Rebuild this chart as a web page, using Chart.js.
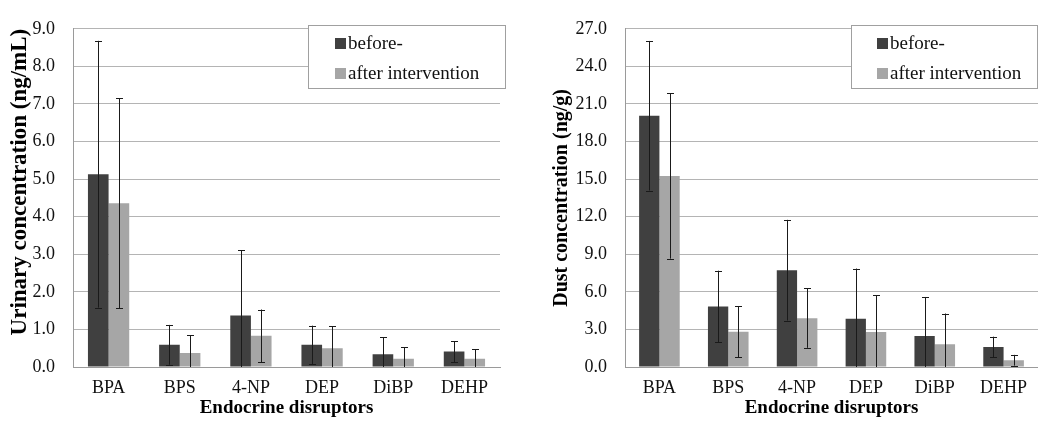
<!DOCTYPE html>
<html>
<head>
<meta charset="utf-8">
<script src="https://cdn.jsdelivr.net/npm/chart.js@4.4.1/dist/chart.umd.min.js"></script>
<style>
  html, body { margin: 0; padding: 0; background: #fff; }
  #wrap { position: relative; width: 1038px; height: 425px; }
  canvas { position: absolute; top: 0; }
  #urine { left: 0; }
  #dust { left: 519px; }
</style>
</head>
<body>
<div id="wrap">
  <canvas id="urine" width="519" height="425"></canvas>
  <canvas id="dust" width="519" height="425"></canvas>
</div>
<script>
// Chart data
const categories = ['BPA', 'BPS', '4-NP', 'DEP', 'DiBP', 'DEHP'];
const seriesLabels = ['before-', 'after intervention'];

// Urinary concentration (ng/mL), mean and SD
const urineBefore = [5.13, 0.59, 1.37, 0.59, 0.34, 0.41];
const urineAfter = [4.36, 0.37, 0.83, 0.50, 0.22, 0.22];
const urineBeforeSd = [3.55, 0.53, 1.74, 0.51, 0.45, 0.28];
const urineAfterSd = [2.79, 0.47, 0.70, 0.59, 0.31, 0.25];

// Dust concentration (ng/g), mean and SD
const dustBefore = [20.06, 4.83, 7.73, 3.85, 2.48, 1.60];
const dustAfter = [15.25, 2.82, 3.90, 2.79, 1.81, 0.54];
const dustBeforeSd = [5.97, 2.86, 4.02, 4.01, 3.11, 0.82];
const dustAfterSd = [6.60, 2.05, 2.37, 2.92, 2.46, 0.43];

const urineTicks = { max: 9, step: 1 };
const dustTicks = { max: 27, step: 3 };

const darkColor = '#404040';
const lightColor = '#a6a6a6';
const serif = "'Liberation Serif', 'Times New Roman', serif";

// Draws the SD error bars on top of the bars
const errorBarPlugin = {
    id: 'errorBars',
    afterDatasetsDraw(chart) {
        const ctx = chart.ctx;
        const yScale = chart.scales.y;
        const area = chart.chartArea;
        ctx.save();
        ctx.strokeStyle = '#1a1a1a';
        ctx.lineWidth = 1;
        chart.data.datasets.forEach((ds, i) => {
            const meta = chart.getDatasetMeta(i);
            meta.data.forEach((bar, j) => {
                const mean = ds.data[j];
                const sd = ds.sd[j];
                const x = Math.round(bar.x) + 0.5;
                let yTop = yScale.getPixelForValue(mean + sd);
                let yBot = yScale.getPixelForValue(mean - sd);
                const clipped = yBot > area.bottom;
                if (clipped) yBot = area.bottom;
                ctx.beginPath();
                ctx.moveTo(x, yTop);
                ctx.lineTo(x, yBot);
                ctx.moveTo(x - 3.5, Math.round(yTop) + 0.5);
                ctx.lineTo(x + 3.5, Math.round(yTop) + 0.5);
                if (!clipped) {
                    ctx.moveTo(x - 3.5, Math.round(yBot) + 0.5);
                    ctx.lineTo(x + 3.5, Math.round(yBot) + 0.5);
                }
                ctx.stroke();
            });
        });
        ctx.restore();
    }
};

// Boxed legend drawn inside the plot area
const boxLegendPlugin = {
    id: 'boxLegend',
    afterDraw(chart, args, opts) {
        const ctx = chart.ctx;
        ctx.save();
        ctx.fillStyle = '#fff';
        ctx.fillRect(opts.x, opts.y, opts.w, opts.h);
        ctx.strokeStyle = '#a0a0a0';
        ctx.lineWidth = 1;
        ctx.strokeRect(opts.x + 0.5, opts.y + 0.5, opts.w, opts.h);
        ctx.font = '19px ' + serif;
        ctx.textBaseline = 'middle';
        chart.data.datasets.forEach((ds, i) => {
            const cy = opts.y + opts.rowStart + i * opts.rowGap;
            ctx.fillStyle = ds.backgroundColor;
            ctx.fillRect(opts.x + opts.boxLeft, cy - 5, 11, 11);
            ctx.fillStyle = '#111';
            ctx.fillText(ds.label, opts.x + opts.boxLeft + 13, cy + 1);
        });
        ctx.restore();
    }
};

function makeChart(id, before, after, beforeSd, afterSd, yTitle, ticks, axisWidth, titleOpts, catPct, legendOpts) {
    const ctx = document.getElementById(id).getContext('2d');
    return new Chart(ctx, {
        type: 'bar',
        data: {
            labels: categories,
            datasets: [
                { label: seriesLabels[0], data: before, sd: beforeSd, backgroundColor: darkColor },
                { label: seriesLabels[1], data: after, sd: afterSd, backgroundColor: lightColor }
            ]
        },
        options: {
            responsive: false,
            animation: false,
            layout: { padding: { top: 19, right: legendOpts.rightPad, left: 0, bottom: 0 } },
            datasets: { bar: { barPercentage: 1, categoryPercentage: catPct } },
            plugins: {
                legend: { display: false },
                tooltip: { enabled: false },
                boxLegend: legendOpts
            },
            scales: {
                x: {
                    grid: { display: false, drawTicks: false },
                    border: { color: '#9a9a9a' },
                    ticks: { color: '#111', padding: 10, font: { family: serif, size: 18 } },
                    title: {
                        display: true,
                        text: 'Endocrine disruptors',
                        color: '#000',
                        padding: { top: 0, bottom: 6 },
                        font: { family: serif, size: 19, weight: 'bold' }
                    },
                    afterFit: scale => { scale.height = 58; }
                },
                y: {
                    min: 0,
                    max: ticks.max,
                    grid: { color: '#b4b4b4', drawTicks: false },
                    border: { color: '#9a9a9a' },
                    ticks: {
                        stepSize: ticks.step,
                        padding: 18,
                        color: '#111',
                        font: { family: serif, size: 18 },
                        callback: v => v.toFixed(1)
                    },
                    title: {
                        display: true,
                        text: yTitle,
                        color: '#000',
                        align: titleOpts.align,
                        padding: { top: titleOpts.pad, bottom: 0 },
                        font: { family: serif, size: titleOpts.size, weight: 'bold' }
                    },
                    afterFit: scale => { scale.width = axisWidth; }
                }
            }
        },
        plugins: [errorBarPlugin, boxLegendPlugin]
    });
}

makeChart('urine', urineBefore, urineAfter, urineBeforeSd, urineAfterSd,
    'Urinary concentration (ng/mL)', urineTicks, 73,
    { size: 23, pad: 6, align: 'end' }, 0.58,
    { x: 308, y: 25, w: 197, h: 63, boxLeft: 27, rowStart: 18, rowGap: 30, rightPad: 19 });

makeChart('dust', dustBefore, dustAfter, dustBeforeSd, dustAfterSd,
    'Dust concentration (ng/g)', dustTicks, 106,
    { size: 20, pad: 31, align: 'center' }, 0.59,
    { x: 332, y: 25, w: 186, h: 63, boxLeft: 26, rowStart: 18, rowGap: 30, rightPad: 0 });
</script>
</body>
</html>
